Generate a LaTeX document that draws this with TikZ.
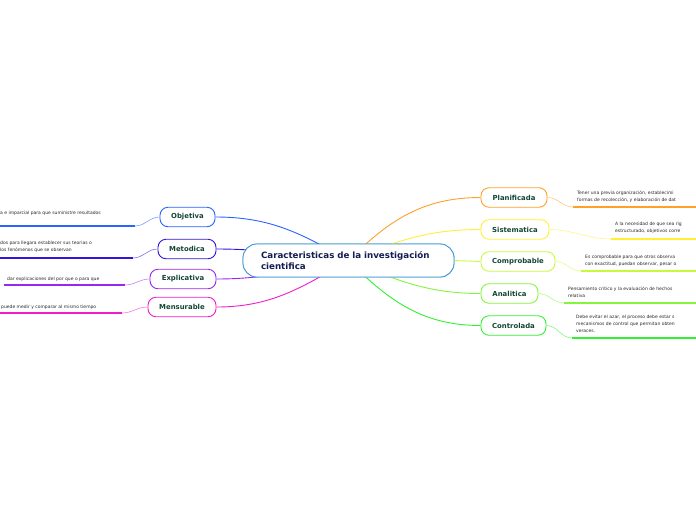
\documentclass[tikz,border=0pt]{standalone}
\usepackage{fontspec}
\setmainfont{DejaVu Sans}
\usetikzlibrary{positioning}
\definecolor{cenblue}{RGB}{60,150,210}
\definecolor{cobj}{RGB}{40,100,255}
\definecolor{cmet}{RGB}{50,20,220}
\definecolor{cexp}{RGB}{150,40,240}
\definecolor{cmen}{RGB}{240,30,200}
\definecolor{cpla}{RGB}{255,160,40}
\definecolor{csis}{RGB}{255,240,50}
\definecolor{ccom}{RGB}{200,250,60}
\definecolor{cana}{RGB}{130,245,60}
\definecolor{ccon}{RGB}{50,240,50}
\definecolor{labgreen}{RGB}{20,70,50}
\definecolor{cennavy}{RGB}{20,30,80}
\definecolor{leafgray}{RGB}{40,40,40}
\tikzset{
	centre/.style={draw=cenblue, line width=0.8pt, fill=white, rounded corners=14pt,
		minimum width=211pt, minimum height=33pt, text width=175pt, align=left,
		font=\fontsize{8.7}{11.5}\selectfont\bfseries, text=cennavy},
	topic/.style={draw=#1, line width=0.9pt, fill=white, rounded corners=8pt,
		minimum height=19.5pt, inner xsep=0pt,
		font=\fontsize{6.9}{7}\selectfont\bfseries, text=labgreen},
	leaf/.style={inner sep=0pt, align=left, text=leafgray,
		font=\fontsize{4.5}{7}\selectfont},
	branch/.style={draw=#1, line width=0.9pt},
	twig/.style={draw=#1!60, line width=0.6pt},
	rule/.style={draw=#1, line width=1.8pt}
}
\begin{document}
\begin{tikzpicture}[x=1pt, y=-1pt]
	\useasboundingbox (0,0) rectangle (696,520);
	
	% main topic
	\node[centre] (cen) at (348.5,260.5) {Caracteristicas de la investigación\\cientifica};
	
	% left side
	\node[topic=cobj, minimum width=55pt] (obj) at (187.5,217) {Objetiva};
	\node[topic=cmet, minimum width=58pt] (met) at (187,249) {Metodica};
	\node[topic=cexp, minimum width=66pt] (exp) at (183,279) {Explicativa};
	\node[topic=cmen, minimum width=68pt] (men) at (182,307) {Mensurable};
	
	% right side
	\node[topic=cpla, minimum width=66pt] (pla) at (514,197.5) {Planificada};
	\node[topic=csis, minimum width=68pt] (sis) at (515,229.5) {Sistematica};
	\node[topic=ccom, minimum width=74pt] (com) at (518,261.5) {Comprobable};
	\node[topic=cana, minimum width=57pt] (ana) at (509.5,293.5) {Analitica};
	\node[topic=ccon, minimum width=65pt] (con) at (513.5,325.5) {Controlada};
	
	% branches from the main topic
	\draw[branch=cobj] (obj.east) to[out=0, in=150] (cen.center);
	\draw[branch=cmet] (met.east) to[out=0, in=175] (cen.center);
	\draw[branch=cexp] (exp.east) to[out=0, in=190] (cen.center);
	\draw[branch=cmen] (men.east) to[out=0, in=210] (cen.center);
	\draw[branch=cpla] (cen.center) to[out=45, in=180] (pla.west);
	\draw[branch=csis] (cen.center) to[out=22, in=180] (sis.west);
	\draw[branch=ccom] (cen.east) -- (com.west);
	\draw[branch=cana] (cen.center) to[out=-22, in=180] (ana.west);
	\draw[branch=ccon] (cen.center) to[out=-45, in=180] (con.west);
	
	% main topic again, over the branches
	\node[centre] at (cen.center) {Caracteristicas de la investigación\\cientifica};
	
	% left texts
	\node[leaf, anchor=west] (objT) at (0,213) {a e imparcial para que suministre resultados};
	\node[leaf, anchor=north west] (metT) at (0,240.5) {dos para llegara establecer sus teorias o\\los fenómenos que se observan};
	\node[leaf, anchor=west] (expT) at (7,279) {dar explicaciones del por que o para que};
	\node[leaf, anchor=west] (menT) at (1,307) {puede medir y comparar al mismo tiempo};
	
	\coordinate (objU) at (135,226);
	\coordinate (metU) at (133,258);
	\coordinate (expU) at (125,285);
	\coordinate (menU) at (122,313);
	
	\draw[twig=cobj] (obj.west) to[out=180, in=0] (objU);
	\draw[twig=cmet] (met.west) to[out=180, in=0] (metU);
	\draw[twig=cexp] (exp.west) to[out=180, in=0] (expU);
	\draw[twig=cmen] (men.west) to[out=180, in=0] (menU);
	\draw[rule=cobj] (objU) -- ++(-140,0);
	\draw[rule=cmet] (metU) -- ++(-140,0);
	\draw[rule=cexp] (expU) -- ++(-121,0);
	\draw[rule=cmen] (menU) -- ++(-130,0);
	
	% right texts
	\node[leaf, anchor=north west] (plaT) at (577,190.5) {Tener una previa organización, establecimi\\formas de recolección, y elaboración de dat};
	\node[leaf, anchor=north west] (sisT) at (615,221.5) {A la necesidad de que sea rig\\estructurado, objetivos corre};
	\node[leaf, anchor=north west] (comT) at (585,254.5) {Es comprobable para que otros observa\\con exactitud, puedan observar, pesar o};
	\node[leaf, anchor=north west] (anaT) at (568,286.5) {Pensamiento critico y la evaluación de hechos\\relativa};
	\node[leaf, anchor=north west] (conT) at (576,314.5) {Debe evitar el azar, el proceso debe estar s\\mecanismos de control que permitan obten\\veraces.};
	
	\coordinate (plaU) at (573,207);
	\coordinate (sisU) at (611,239);
	\coordinate (comU) at (581,271);
	\coordinate (anaU) at (564,303);
	\coordinate (conU) at (572,338);
	
	\draw[twig=cpla] (pla.east) to[out=0, in=180] (plaU);
	\draw[twig=csis] (sis.east) to[out=0, in=180] (sisU);
	\draw[twig=ccom] (com.east) to[out=0, in=180] (comU);
	\draw[twig=cana] (ana.east) to[out=0, in=180] (anaU);
	\draw[twig=ccon] (con.east) to[out=0, in=180] (conU);
	\draw[rule=cpla] (plaU) -- ++(130,0);
	\draw[rule=csis] (sisU) -- ++(90,0);
	\draw[rule=ccom] (comU) -- ++(120,0);
	\draw[rule=cana] (anaU) -- ++(140,0);
	\draw[rule=ccon] (conU) -- ++(130,0);
\end{tikzpicture}
\end{document}
